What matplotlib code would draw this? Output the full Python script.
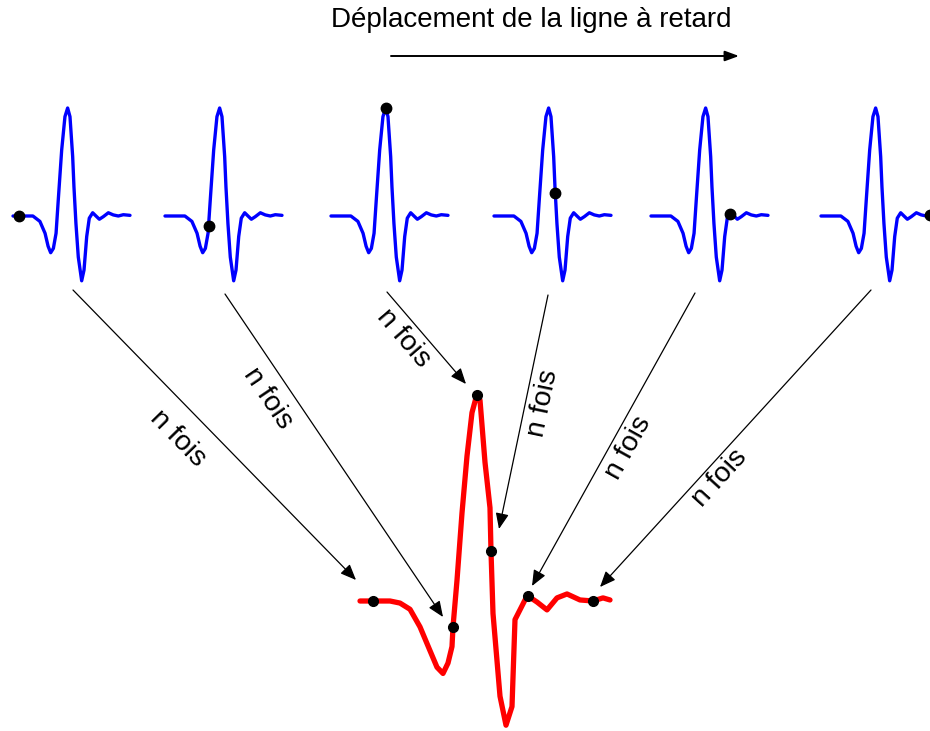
import numpy as np
import matplotlib
matplotlib.use("Agg")
import matplotlib.pyplot as plt

plt.rcParams["font.family"] = ["Liberation Sans", "DejaVu Sans"]

# impulsion bleue (x normalisé 0..1, amplitude normalisée au pic)
blue_x = [0.0, 0.17, 0.23, 0.274, 0.30, 0.322, 0.345, 0.368, 0.387, 0.416, 0.444,
          0.467, 0.487, 0.51, 0.521, 0.538, 0.558, 0.587, 0.607, 0.63, 0.652,
          0.681, 0.715, 0.738, 0.772, 0.815, 0.857, 0.90, 0.943, 1.0]
blue_y = [0.0, 0.0, -0.05, -0.16, -0.28, -0.34, -0.30, -0.16, 0.15, 0.61, 0.92,
          1.0, 0.92, 0.55, 0.27, -0.07, -0.38, -0.60, -0.50, -0.19, -0.02,
          0.03, -0.006, -0.03, -0.006, 0.03, 0.01, 0.0, 0.012, 0.006]

# signal rouge (même normalisation)
red_x = [0.0, 0.052, 0.12, 0.16, 0.20, 0.24, 0.28, 0.308, 0.332, 0.352, 0.368,
         0.372, 0.388, 0.408, 0.428, 0.448, 0.468, 0.48, 0.50, 0.52, 0.524,
         0.532, 0.56, 0.584, 0.608, 0.62, 0.66, 0.672, 0.708, 0.748, 0.788,
         0.828, 0.88, 0.932, 0.972, 1.0]
red_y = [0.0, 0.0, 0.0, -0.01, -0.04, -0.125, -0.24, -0.32, -0.35, -0.30, -0.22,
         -0.125, 0.10, 0.425, 0.70, 0.91, 1.0, 0.97, 0.67, 0.45, 0.24,
         -0.06, -0.46, -0.60, -0.51, -0.09, 0.005, 0.024, -0.005, -0.043, 0.015,
         0.034, 0.005, 0.0, 0.015, 0.005]

# position de l'échantillon pris à chaque décalage de la ligne à retard
sample_frac = [0.052, 0.372, 0.467, 0.524, 0.672, 0.932]

# abscisse de départ de chaque copie bleue
blue_start = [13, 165, 331, 494, 651, 821]

# mise en page (pixels)
BLUE_W, BLUE_A, BLUE_BASE = 117, 108, 216
RED_X0, RED_W, RED_A, RED_BASE = 360, 250, 207, 601

arrow_start = [(73, 290), (225, 294), (387, 292), (548, 295), (695, 293), (871, 290)]
arrow_tip = [(356, 580), (443, 617), (466, 384), (499, 529), (532, 586), (600, 587)]
label_pos = [(178, 438), (268, 398), (403, 338), (543, 403), (628, 448), (720, 478)]

bx, by = np.array(blue_x), np.array(blue_y)
rx, ry = np.array(red_x), np.array(red_y)

fig = plt.figure(figsize=(9.3, 7.31), dpi=100)
ax = fig.add_axes([0, 0, 1, 1])
ax.set_xlim(0, 930)
ax.set_ylim(731, 0)
ax.axis("off")

# copies décalées (bleu)
for x0, f in zip(blue_start, sample_frac):
    ax.plot(x0 + bx * BLUE_W, BLUE_BASE - by * BLUE_A, color="#0000ff",
            linewidth=2.4, solid_joinstyle="round", solid_capstyle="round", zorder=2)
    ax.plot(x0 + f * BLUE_W, BLUE_BASE - np.interp(f, bx, by) * BLUE_A, "o",
            color="black", markersize=7.5, zorder=3)

# signal reconstruit (rouge)
ax.plot(RED_X0 + rx * RED_W, RED_BASE - ry * RED_A, color="#ff0000",
        linewidth=3.8, solid_joinstyle="round", solid_capstyle="round", zorder=2)
for f in sample_frac:
    ax.plot(RED_X0 + f * RED_W, RED_BASE - np.interp(f, rx, ry) * RED_A, "o",
            color="black", markersize=7, zorder=3)

# flèches et libellés
for (x1, y1), (x2, y2), (lx, ly) in zip(arrow_start, arrow_tip, label_pos):
    ax.annotate("", xy=(x2, y2), xytext=(x1, y1),
                arrowprops=dict(arrowstyle="-|>,head_length=0.6,head_width=0.25",
                                color="black", lw=0.9, mutation_scale=16,
                                shrinkA=0, shrinkB=0))
    ang = np.degrees(np.arctan2(-(y2 - y1), x2 - x1))
    if ang < -90:
        ang += 180
    ax.text(lx, ly, "n fois", rotation=ang, rotation_mode="anchor",
            ha="center", va="center", fontsize=20.5, color="black")

# titre et flèche de déplacement
ax.text(531, 20, "Déplacement de la ligne à retard", ha="center", va="center",
        fontsize=20, color="black")
ax.annotate("", xy=(739, 56), xytext=(391, 56),
            arrowprops=dict(arrowstyle="-|>,head_length=0.6,head_width=0.22",
                            color="black", lw=1.4, mutation_scale=14,
                            shrinkA=0, shrinkB=0))

fig.savefig("out.png", dpi=100)
